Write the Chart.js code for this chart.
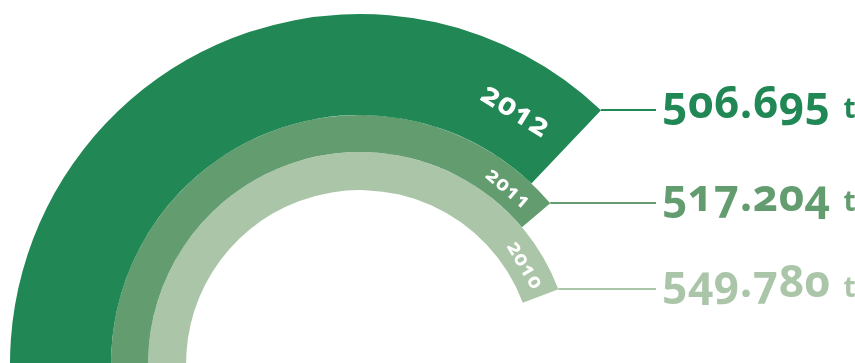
<!DOCTYPE html>
<html>
<head>
<meta charset="utf-8">
<script src="https://cdn.jsdelivr.net/npm/chart.js@4.4.1/dist/chart.umd.min.js"></script>
<style>
    html, body { margin: 0; padding: 0; background: #fff; }
    #stage { position: relative; width: 855px; height: 363px; overflow: hidden; }
    #ringCanvas { position: absolute; left: 10px; top: 14px; }
    .value-label {
        position: absolute;
        font-family: 'Open Sans', sans-serif;
        font-weight: 700;
        font-size: 44px;
        line-height: 1;
        letter-spacing: 0.5px;
        white-space: nowrap;
        font-variant-numeric: oldstyle-nums;
    }
    .value-label .unit { font-size: 28px; margin-left: 13px; letter-spacing: 0; }
    .year-label {
        position: absolute;
        font-family: 'Open Sans', sans-serif;
        font-weight: 700;
        line-height: 1;
        letter-spacing: 1px;
        color: #fff;
        white-space: nowrap;
        font-variant-numeric: oldstyle-nums;
        transform-origin: 50% 50%;
    }
</style>
</head>
<body>
<div id="stage">
    <canvas id="ringCanvas" width="700" height="700"></canvas>
</div>
<script>
// Emissions per year, in tonnes
const years = ['2012', '2011', '2010'];
const tonnes = [506695, 517204, 549780];
const unit = 't';
const scaleMax = 600000; // tonnes for one full turn

// ring styling
const ringColors = ['#218855', '#629c6f', '#abc5a8'];
const ringWeights = [101, 37, 38];
const yearFontSizes = [31, 21, 21];
const yearGaps = [24, 12, 8];
const LABEL_X = 662;

const stage = document.getElementById('stage');
const canvas = document.getElementById('ringCanvas');

let labelEls = null;

function buildLabels() {
    labelEls = years.map((year, i) => {
        const value = document.createElement('div');
        value.className = 'value-label';
        value.style.color = ringColors[i];
        value.innerHTML = `${tonnes[i].toLocaleString('de-DE')}<span class="unit">${unit}</span>`;
        stage.appendChild(value);

        const yr = document.createElement('div');
        yr.className = 'year-label';
        yr.style.fontSize = yearFontSizes[i] + 'px';
        yr.textContent = year;
        stage.appendChild(yr);
        return { value, yr };
    });
}

// leader lines from each ring's end plus the year / value labels
const ringLabels = {
    id: 'ringLabels',
    afterDraw(chart) {
        if (!labelEls) buildLabels();
        const ctx = chart.ctx;
        const offX = canvas.offsetLeft;
        const offY = canvas.offsetTop;

        chart.data.datasets.forEach((ds, i) => {
            const arc = chart.getDatasetMeta(i).data[0];
            const { x, y, endAngle, outerRadius, innerRadius } =
                arc.getProps(['x', 'y', 'endAngle', 'outerRadius', 'innerRadius'], true);

            const tipX = x + outerRadius * Math.cos(endAngle);
            const tipY = Math.round(y + outerRadius * Math.sin(endAngle));

            ctx.save();
            ctx.strokeStyle = ringColors[i];
            ctx.lineWidth = 2;
            ctx.beginPath();
            ctx.moveTo(tipX, tipY);
            ctx.lineTo(LABEL_X - 6 - offX, tipY);
            ctx.stroke();
            ctx.restore();

            const { value, yr } = labelEls[i];
            value.style.left = LABEL_X + 'px';
            value.style.top = (offY + tipY - 31) + 'px';

            // year sits inside the ring, just before its end, following the curve
            const midR = (outerRadius + innerRadius) / 2;
            const back = yr.offsetWidth / 2 + yearGaps[i];
            const a = endAngle - back / midR;
            const cx = offX + x + midR * Math.cos(a);
            const cy = offY + y + midR * Math.sin(a);
            yr.style.left = cx + 'px';
            yr.style.top = cy + 'px';
            yr.style.transform = `translate(-50%, -50%) rotate(${a + Math.PI / 2}rad)`;
        });
    }
};

const datasets = years.map((year, i) => ({
    label: year,
    data: [tonnes[i], scaleMax - tonnes[i]],
    backgroundColor: [ringColors[i], 'rgba(0,0,0,0)'],
    borderWidth: 0,
    weight: ringWeights[i]
}));

new Chart(canvas, {
    type: 'doughnut',
    data: { labels: ['Emission', ''], datasets },
    options: {
        responsive: false,
        animation: false,
        rotation: 99.5,
        cutout: '49.7%',
        layout: { padding: 0 },
        events: [],
        plugins: {
            legend: { display: false },
            tooltip: { enabled: false }
        }
    },
    plugins: [ringLabels]
});
</script>
</body>
</html>
